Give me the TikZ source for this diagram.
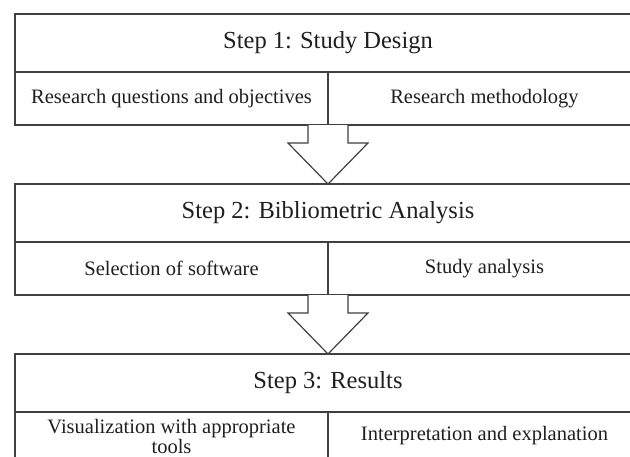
\documentclass[tikz,border=0pt]{standalone}
\usepackage{fontspec}
\setmainfont{Liberation Serif}
\usetikzlibrary{positioning}

\begin{document}
\begin{tikzpicture}[x=1pt, y=-1pt,
		every node/.style={text=black!88, inner sep=0pt, outer sep=0pt},
		stage/.style={draw=black!75, line width=1.2pt, rectangle, minimum width=626pt, minimum height=58pt, font=\fontsize{24.5}{26}\selectfont},
		part/.style={draw=black!75, line width=1.2pt, rectangle, minimum width=313pt, minimum height=53pt, align=center, font=\fontsize{20.5}{21.5}\selectfont},
		blockarrow/.style={draw=black!75, line width=1.2pt, fill=white, line join=miter},
	]
	\path[use as bounding box, clip] (0,0) rectangle (630,456);

	% three stages, each with two parts below
	\node[stage] (S1) at (328,43) {Step 1: Study Design};
	\node[part, below right=0pt and 0pt of S1.south west] (S1a) {Research questions and objectives};
	\node[part, below left=0pt and 0pt of S1.south east] (S1b) {Research methodology};

	\node[stage] (S2) at (328,213) {Step 2: Bibliometric Analysis};
	\node[part, below right=0pt and 0pt of S2.south west] (S2a) {Selection of software};
	\node[part, below left=0pt and 0pt of S2.south east] (S2b) {Study analysis};

	\node[stage] (S3) at (328,383) {Step 3: Results};
	\node[part, minimum height=48pt, below right=0pt and 0pt of S3.south west] (S3a) {Visualization with appropriate\\[-1.5pt]tools};
	\node[part, minimum height=48pt, below left=0pt and 0pt of S3.south east] (S3b) {Interpretation and explanation};

	% block arrows
	\draw[blockarrow] ([xshift=-20pt]S1a.south east) |- ([xshift=-40pt,yshift=41pt]S2.north) -- (S2.north)
		-- ([xshift=40pt,yshift=41pt]S2.north) -| ([xshift=20pt]S1a.south east);
	\draw[blockarrow] ([xshift=-20pt]S2a.south east) |- ([xshift=-40pt,yshift=41pt]S3.north) -- (S3.north)
		-- ([xshift=40pt,yshift=41pt]S3.north) -| ([xshift=20pt]S2a.south east);
\end{tikzpicture}
\end{document}
